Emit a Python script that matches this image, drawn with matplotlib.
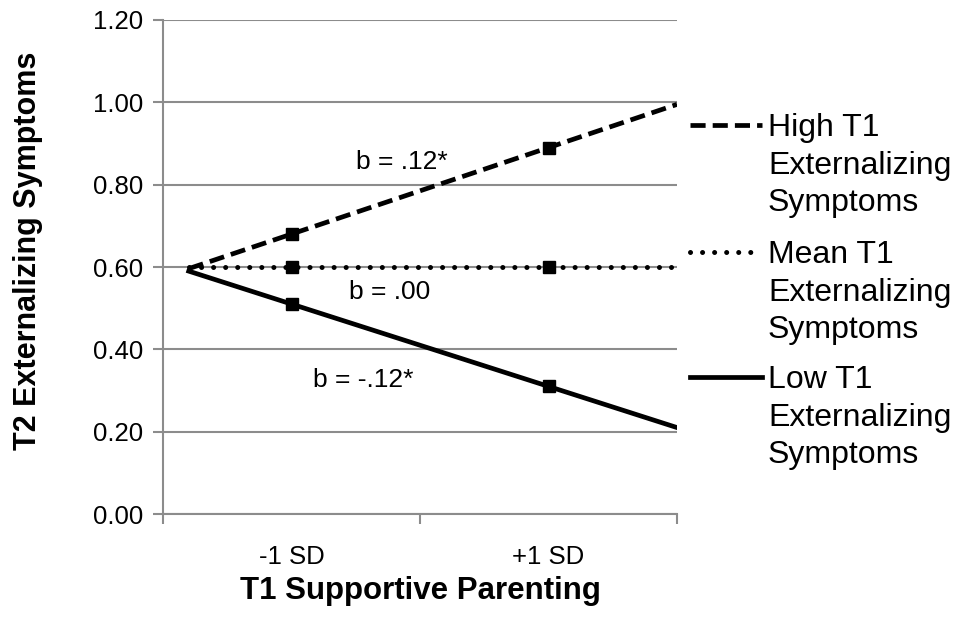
import matplotlib
matplotlib.use('Agg')
from matplotlib import pyplot as plt
from matplotlib.lines import Line2D
import numpy as np

plt.rcParams['font.family'] = ['Liberation Sans', 'DejaVu Sans']

categories = ['-1 SD', '+1 SD']
high = [0.68, 0.89]
mean = [0.60, 0.60]
low = [0.51, 0.31]
series_names = ['High T1\nExternalizing\nSymptoms',
                'Mean T1\nExternalizing\nSymptoms',
                'Low T1\nExternalizing\nSymptoms']
slope_labels = ['b = .12*', 'b = .00', 'b = -.12*']
yticks = [0.0, 0.2, 0.4, 0.6, 0.8, 1.0, 1.2]

grey = '#8c8c8c'

fig = plt.figure(figsize=(9.55, 6.17), dpi=100)
ax = fig.add_axes([0.1707, 0.1669, 0.5382, 0.8007])

x = np.arange(len(categories)) + 0.5   # category centres
x_line = np.array([0.1, 2.0])           # trend line reach (back / forward)

styles = [
    dict(linestyle=(0, (3.2, 1.5)), linewidth=3.4, dash_capstyle='butt'),
    dict(linestyle=(0, (0.01, 2.4)), linewidth=3.6, dash_capstyle='round'),
    dict(linestyle='-', linewidth=3.4),
]

for ys, st in zip([high, mean, low], styles):
    k, b = np.polyfit(x, ys, 1)
    ax.plot(x_line, k * x_line + b, color='black', zorder=3, **st)
    ax.plot(x, ys, linestyle='none', marker='s', markersize=9,
            color='black', zorder=4)

ax.text(0.93, 0.855, slope_labels[0], ha='center', va='center', fontsize=19)
ax.text(0.88, 0.539, slope_labels[1], ha='center', va='center', fontsize=19)
ax.text(0.78, 0.325, slope_labels[2], ha='center', va='center', fontsize=19)

ax.set_xlim(0, 2)
ax.set_ylim(0, 1.2)
ax.set_yticks(yticks)
ax.set_yticklabels(['%.2f' % v for v in yticks])
ax.set_xticks([0, 1, 2])
ax.set_xticklabels([])
ax.set_xticks(x, minor=True)
ax.set_xticklabels(categories, minor=True)
ax.tick_params(axis='x', which='minor', length=0, pad=22, labelsize=18.5)
ax.tick_params(axis='x', which='major', length=7, width=1.5, color=grey)
ax.tick_params(axis='y', length=7, width=1.5, color=grey, labelsize=18.5, pad=7)

ax.grid(True, axis='y', color=grey, linewidth=1.5)
ax.set_axisbelow(True)
for s in ['top', 'right']:
    ax.spines[s].set_visible(False)
for s in ['left', 'bottom']:
    ax.spines[s].set_color(grey)
    ax.spines[s].set_linewidth(1.5)

fig.text(0.5 * (163 + 677) / 955, 1 - 591 / 617, 'T1 Supportive Parenting',
         ha='center', va='center', fontsize=22.5, fontweight='bold')
fig.text(28 / 955, 1 - 251 / 617, 'T2 Externalizing Symptoms', rotation=90,
         ha='center', va='center', fontsize=22, fontweight='bold')

# legend drawn by hand so the key sits beside the first text line
leg_y = [125, 252, 377]
for name, st, py in zip(series_names, styles, leg_y):
    yf = 1 - py / 617
    fig.add_artist(Line2D([690 / 955, 762 / 955], [yf, yf], color='black',
                          transform=fig.transFigure, **st))
    fig.text(768 / 955, yf + 12 / 617, name, ha='left', va='top',
             fontsize=23, linespacing=1.33)

fig.savefig('out.png', dpi=100)
